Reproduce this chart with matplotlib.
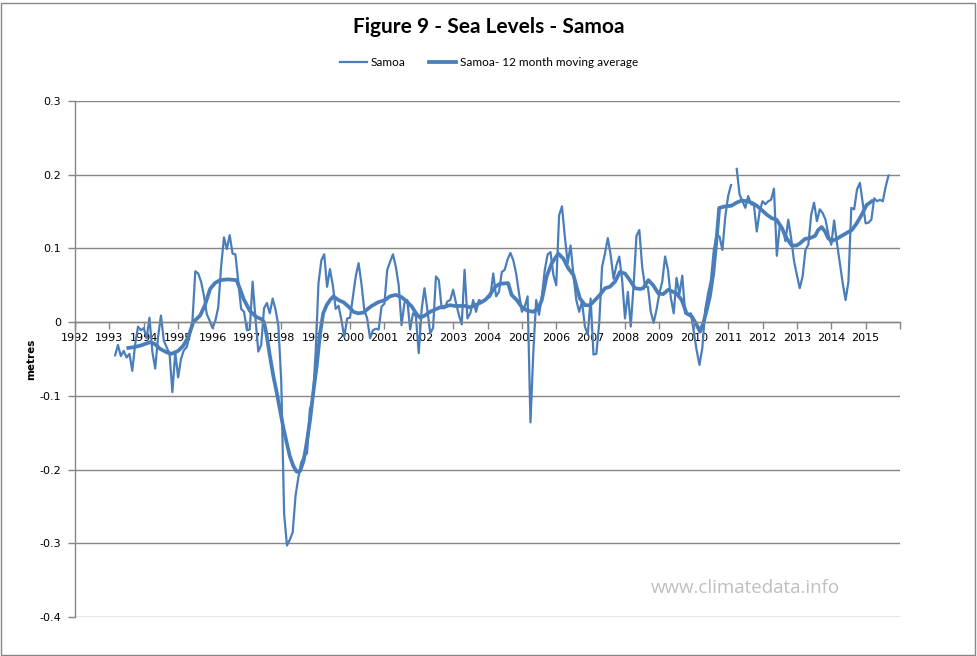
import numpy as np
import matplotlib
matplotlib.use("Agg")
import matplotlib.pyplot as plt
from matplotlib.patches import Rectangle

# monthly sea level, Samoa (metres), Mar 1993 - Sep 2015 (nan = missing month)
start_year, start_month = 1993, 3
samoa = [
    # 1993 (Mar-Dec)
    -0.045, -0.031, -0.046, -0.039, -0.048, -0.043, -0.066, -0.030, -0.006, -0.011,
    # 1994
    -0.008, -0.022, 0.006, -0.040, -0.063, -0.020, 0.009, -0.025, -0.034, -0.043, -0.095, -0.041,
    # 1995
    -0.075, -0.050, -0.038, -0.034, -0.018, 0.002, 0.069, 0.066, 0.055, 0.036, 0.011, 0.002,
    # 1996
    -0.008, 0.002, 0.020, 0.075, 0.115, 0.099, 0.118, 0.093, 0.092, 0.055, 0.018, 0.014,
    # 1997
    -0.011, -0.010, 0.055, 0.005, -0.040, -0.031, 0.019, 0.026, 0.012, 0.032, 0.017, -0.005,
    # 1998
    -0.080, -0.260, -0.303, -0.295, -0.285, -0.235, -0.210, -0.190, -0.182, -0.178, -0.118, -0.105,
    # 1999
    -0.042, 0.053, 0.084, 0.092, 0.048, 0.072, 0.050, 0.018, 0.022, 0.003, -0.020, 0.005,
    # 2000
    0.006, 0.034, 0.062, 0.080, 0.052, 0.016, 0.005, -0.022, -0.011, -0.009, -0.010, 0.021,
    # 2001
    0.025, 0.071, 0.082, 0.092, 0.075, 0.050, -0.004, 0.026, 0.030, -0.010, 0.012, 0.008,
    # 2002
    -0.042, 0.017, 0.046, 0.017, -0.015, -0.008, 0.062, 0.057, 0.019, 0.019, 0.028, 0.030,
    # 2003
    0.044, 0.026, 0.010, -0.003, 0.071, 0.005, 0.012, 0.030, 0.014, 0.030, 0.028, 0.030,
    # 2004
    0.032, 0.035, 0.066, 0.035, 0.041, 0.068, 0.071, 0.085, 0.094, 0.084, 0.066, 0.039,
    # 2005
    0.014, 0.021, 0.035, -0.136, -0.040, 0.030, 0.010, 0.035, 0.071, 0.092, 0.095, 0.064,
    # 2006
    0.050, 0.145, 0.157, 0.116, 0.080, 0.104, 0.064, 0.030, 0.014, 0.028, -0.006, -0.017,
    # 2007
    0.032, -0.044, -0.043, -0.001, 0.075, 0.093, 0.114, 0.091, 0.059, 0.077, 0.089, 0.057,
    # 2008
    0.005, 0.041, -0.006, 0.050, 0.117, 0.125, 0.075, 0.048, 0.048, 0.014, -0.001, 0.017,
    # 2009
    0.039, 0.055, 0.089, 0.071, 0.033, 0.012, 0.060, 0.038, 0.063, 0.012, 0.010, 0.012,
    # 2010
    -0.013, -0.038, -0.058, -0.035, 0.017, 0.039, 0.057, 0.098, 0.119, 0.116, 0.098, 0.143,
    # 2011
    0.171, 0.186, np.nan, 0.208, 0.173, 0.164, 0.155, 0.171, 0.160, 0.159, 0.123, 0.150,
    # 2012
    0.164, 0.160, 0.164, 0.166, 0.181, 0.090, 0.130, 0.128, 0.110, 0.139, 0.114, 0.083,
    # 2013
    0.064, 0.046, 0.062, 0.098, 0.105, 0.146, 0.162, 0.137, 0.153, 0.148, 0.139, 0.119,
    # 2014
    0.105, 0.138, 0.107, 0.080, 0.053, 0.030, 0.055, 0.155, 0.153, 0.180, 0.189, 0.162,
    # 2015 (Jan-Sep)
    0.134, 0.135, 0.139, 0.168, 0.164, 0.166, 0.164, 0.184, 0.199,
]

# 12 month moving average as drawn (decimal year, metres)
ma_years = [
    1993.55, 1993.70, 1993.89, 1994.08, 1994.20, 1994.33, 1994.47, 1994.67, 1994.81, 1995.00,
    1995.15, 1995.30, 1995.44, 1995.64, 1995.78, 1995.93, 1996.07, 1996.22, 1996.45, 1996.70,
    1996.80, 1996.90, 1997.09, 1997.28, 1997.43, 1997.50, 1997.58, 1997.67, 1997.77, 1997.87,
    1997.96, 1998.06, 1998.16, 1998.25, 1998.35, 1998.45, 1998.55, 1998.65, 1998.74, 1998.84,
    1998.93, 1999.03, 1999.13, 1999.22, 1999.32, 1999.42, 1999.52, 1999.66, 1999.81, 1999.96,
    2000.10, 2000.24, 2000.39, 2000.49, 2000.63, 2000.82, 2001.02, 2001.16, 2001.33, 2001.50,
    2001.65, 2001.80, 2001.92, 2002.04, 2002.18, 2002.33, 2002.47, 2002.62, 2002.76, 2002.91,
    2003.05, 2003.35, 2003.49, 2003.64, 2003.78, 2003.93, 2004.07, 2004.22, 2004.36, 2004.60,
    2004.70, 2004.85, 2004.99, 2005.14, 2005.33, 2005.48, 2005.58, 2005.72, 2005.87, 2006.06,
    2006.21, 2006.35, 2006.50, 2006.59, 2006.69, 2006.84, 2006.98, 2007.13, 2007.27, 2007.42,
    2007.56, 2007.71, 2007.85, 2008.00, 2008.14, 2008.29, 2008.44, 2008.53, 2008.68, 2008.82,
    2008.97, 2009.11, 2009.26, 2009.40, 2009.50, 2009.65, 2009.79, 2009.94, 2010.09, 2010.18,
    2010.28, 2010.38, 2010.47, 2010.57, 2010.67, 2010.74, 2010.91, 2011.10, 2011.24, 2011.39,
    2011.55, 2011.69, 2011.83, 2011.98, 2012.12, 2012.27, 2012.41, 2012.56, 2012.70, 2012.85,
    2012.99, 2013.09, 2013.24, 2013.38, 2013.53, 2013.62, 2013.72, 2013.82, 2013.91, 2014.01,
    2014.16, 2014.30, 2014.45, 2014.60, 2014.74, 2014.89, 2015.03, 2015.18,
]
ma_values = [
    -0.035, -0.034, -0.032, -0.029, -0.027, -0.030, -0.036, -0.041, -0.043, -0.039,
    -0.032, -0.020, 0.000, 0.009, 0.023, 0.045, 0.053, 0.057, 0.058, 0.057,
    0.045, 0.032, 0.015, 0.007, 0.004, 0.000, -0.019, -0.046, -0.073, -0.096,
    -0.118, -0.143, -0.164, -0.182, -0.195, -0.203, -0.202, -0.188, -0.164, -0.132,
    -0.096, -0.060, -0.015, 0.012, 0.023, 0.030, 0.035, 0.030, 0.027, 0.021,
    0.014, 0.012, 0.013, 0.017, 0.022, 0.027, 0.030, 0.035, 0.037, 0.034,
    0.028, 0.021, 0.012, 0.006, 0.009, 0.014, 0.017, 0.020, 0.021, 0.023,
    0.022, 0.022, 0.020, 0.023, 0.026, 0.030, 0.037, 0.048, 0.052, 0.053,
    0.037, 0.030, 0.021, 0.016, 0.014, 0.019, 0.030, 0.062, 0.080, 0.093,
    0.086, 0.073, 0.064, 0.048, 0.032, 0.023, 0.023, 0.030, 0.037, 0.046,
    0.048, 0.055, 0.068, 0.066, 0.057, 0.046, 0.045, 0.046, 0.057, 0.050,
    0.039, 0.038, 0.044, 0.041, 0.039, 0.030, 0.012, 0.008, -0.004, -0.013,
    -0.001, 0.017, 0.035, 0.067, 0.116, 0.155, 0.157, 0.158, 0.162, 0.165,
    0.164, 0.162, 0.158, 0.152, 0.146, 0.141, 0.139, 0.128, 0.114, 0.104,
    0.104, 0.107, 0.113, 0.114, 0.117, 0.125, 0.129, 0.123, 0.114, 0.110,
    0.113, 0.117, 0.121, 0.125, 0.134, 0.146, 0.159, 0.164,
]

year_ticks = list(range(1992, 2017))
year_labels = [str(y) for y in range(1992, 2016)] + [""]
y_ticks = [0.3, 0.2, 0.1, 0, -0.1, -0.2, -0.3, -0.4]

blue = "#4A7EBB"
grey = "#868686"

months = start_year + (start_month - 1) / 12 + np.arange(len(samoa)) / 12

fig = plt.figure(figsize=(9.78, 6.56), dpi=100)
ax = fig.add_axes([75 / 978, 1 - 617 / 656, 825 / 978, 516 / 656])

ax.plot(months, samoa, color=blue, lw=1.6, label="Samoa")
ax.plot(ma_years, ma_values, color=blue, lw=2.7, label="Samoa- 12 month moving average")

ax.set_xlim(1992, 2016)
ax.set_ylim(-0.4, 0.3)
ax.set_xticks(year_ticks)
ax.set_xticklabels(year_labels)
ax.set_yticks(y_ticks)
ax.set_yticklabels([f"{v:g}" for v in y_ticks])

ax.spines["top"].set_visible(False)
ax.spines["right"].set_visible(False)
ax.spines["bottom"].set_position(("data", 0))
for s in ("left", "bottom"):
    ax.spines[s].set_color(grey)
    ax.spines[s].set_linewidth(1)
ax.tick_params(axis="both", direction="out", length=5, width=1, color=grey,
               labelsize=8, labelcolor="black")
ax.tick_params(axis="y", pad=5)
ax.tick_params(axis="x", pad=3)
ax.yaxis.grid(True, color=grey, lw=1)
ax.set_axisbelow(True)

fig.text(0.5, 1 - 27 / 656, "Figure 9 - Sea Levels - Samoa", ha="center", va="center",
         fontsize=15, fontweight="bold", family="Lato")
fig.legend(loc="center", bbox_to_anchor=(0.5, 1 - 63 / 656), ncol=2, frameon=False,
           prop={"family": "Lato", "size": 8.5}, handlelength=2.3, handletextpad=0.3,
           columnspacing=2.0)
fig.text(31 / 978, 1 - 359 / 656, "metres", rotation=90, ha="center", va="center",
         fontsize=7.5, fontweight="bold")
fig.text(745 / 978, 1 - 593 / 656, "www.climatedata.info", ha="center", va="baseline",
         fontsize=13.5, color="#BFBFBF", family="Open Sans")

fig.patches.append(Rectangle((0.5 / 978, 1.5 / 656), 975 / 978, 652 / 656, transform=fig.transFigure,
                             fill=False, edgecolor=grey, lw=1))

fig.savefig("out.png", dpi=100)
